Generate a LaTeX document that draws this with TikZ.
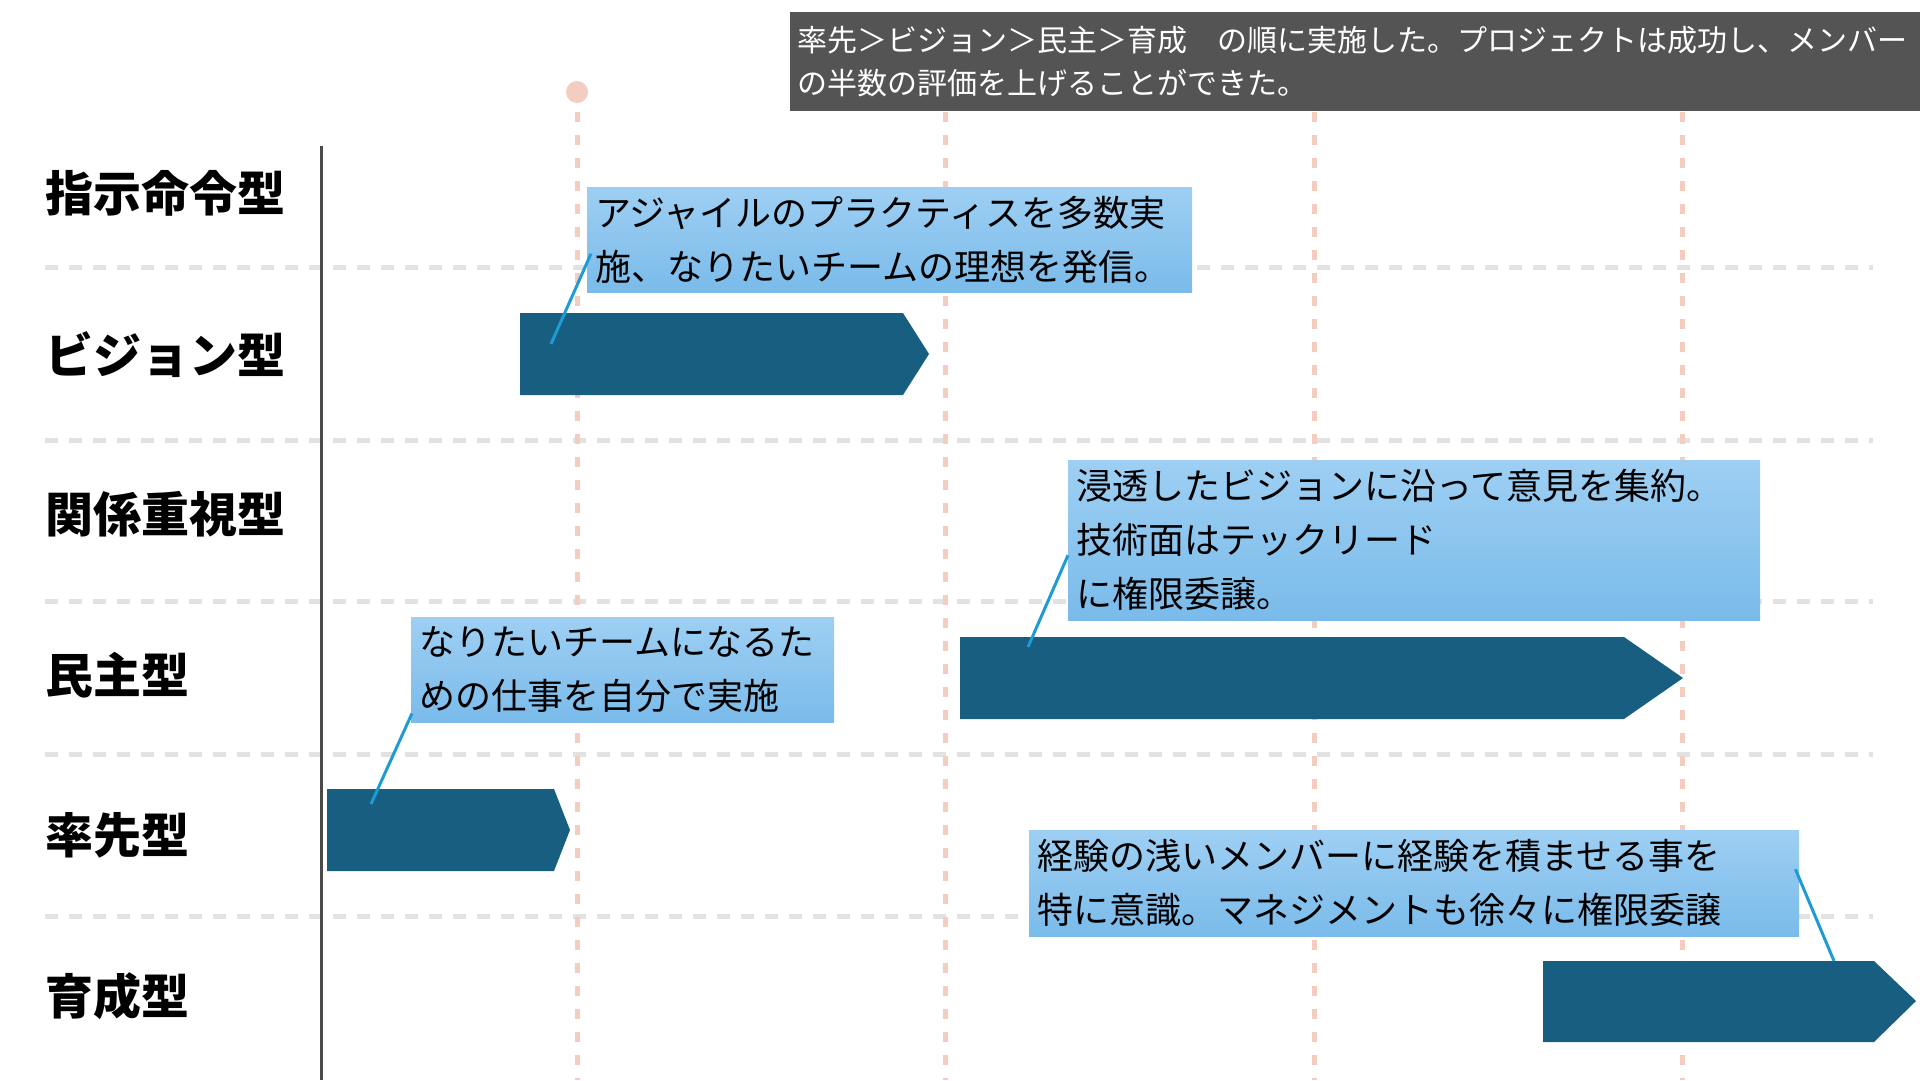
\documentclass[tikz,border=0pt]{standalone}
\usepackage{fontspec}
\setmainfont{Noto Sans CJK JP}

\definecolor{barblue}{RGB}{23,94,128}
\definecolor{linkblue}{RGB}{30,155,212}
\definecolor{gridgray}{RGB}{226,226,226}
\definecolor{guidepink}{RGB}{243,204,194}
\definecolor{notetop}{RGB}{158,207,243}
\definecolor{notebottom}{RGB}{122,187,234}
\definecolor{headgray}{RGB}{84,84,84}
\definecolor{axisgray}{RGB}{74,74,74}

\begin{document}
\begin{tikzpicture}[x=1pt,y=-1pt,
    gridline/.style={gridgray, line width=5pt, dash pattern=on 13pt off 11pt},
    guideline/.style={guidepink, line width=5pt, dash pattern=on 10pt off 13pt},
    rowlabel/.style={anchor=west, inner sep=0pt, font=\fontsize{48}{48}\selectfont\bfseries},
    note/.style={anchor=north west, inner xsep=8pt, inner ysep=0pt,
        top color=notetop, bottom color=notebottom, align=left,
        font=\fontsize{36}{54}\selectfont},
    link/.style={draw=linkblue, line width=3pt}]
    \useasboundingbox (0,0) rectangle (1920,1080);

    % Row separators
    \foreach \y in {267,440,601,754,916} {
        \draw[gridline] (45,\y) -- (1873,\y);
    }

    % Time guides
    \foreach \x in {577,945,1314,1682} {
        \draw[guideline] (\x,112) -- (\x,1080);
    }
    \fill[guidepink] (577,92) circle (11pt);

    % Axis
    \draw[axisgray, line width=3pt] (321,146) -- (321,1080);

    % Row labels
    \node[rowlabel] (directive) at (45,193) {指示命令型};
    \node[rowlabel] (vision)    at (45,355) {ビジョン型};
    \node[rowlabel] (relation)  at (45,514) {関係重視型};
    \node[rowlabel] (democracy) at (45,675) {民主型};
    \node[rowlabel] (pacesetter) at (45,835) {率先型};
    \node[rowlabel] (coaching)  at (45,996) {育成型};

    % Bars
    \fill[barblue] (520,313) -- (903,313) -- (929,354) -- (903,395) -- (520,395) -- cycle;
    \fill[barblue] (960,637) -- (1624,637) -- (1683,678) -- (1624,719) -- (960,719) -- cycle;
    \fill[barblue] (327,789) -- (554,789) -- (570,830) -- (554,871) -- (327,871) -- cycle;
    \fill[barblue] (1543,961) -- (1874,961) -- (1916,1001) -- (1874,1042) -- (1543,1042) -- cycle;
    \coordinate (visionbar) at (551,344);
    \coordinate (democracybar) at (1028,647);
    \coordinate (pacesetterbar) at (371,804);
    \coordinate (coachingbar) at (1834,961);

    % Notes
    \node[note, text width=589pt, minimum height=105pt] (visionnote) at (587,187)
        {アジャイルのプラクティスを多数実\\施、なりたいチームの理想を発信。};
    \node[note, text width=676pt, minimum height=160pt] (democracynote) at (1068,460)
        {浸透したビジョンに沿って意見を集約。\\技術面はテックリード\\に権限委譲。};
    \node[note, text width=407pt, minimum height=105pt] (pacesetternote) at (411,617)
        {なりたいチームになるた\\めの仕事を自分で実施};
    \node[note, text width=754pt, minimum height=106pt] (coachingnote) at (1029,830)
        {経験の浅いメンバーに経験を積ませる事を\\特に意識。マネジメントも徐々に権限委譲};

    % Links
    \draw[link] ([xshift=4pt,yshift=-14pt]visionnote.west) -- (visionbar);
    \draw[link] ([yshift=-15pt]democracynote.west) -- (democracybar);
    \draw[link] ([xshift=1pt,yshift=9pt]pacesetternote.south west) -- (pacesetterbar);
    \draw[link] ([xshift=-4pt,yshift=14pt]coachingnote.east) -- (coachingbar);

    % Summary
    \node[anchor=north west, fill=headgray, text=white, inner xsep=7pt, inner ysep=0pt,
        minimum height=99pt, text width=1116pt, align=left,
        font=\fontsize{30}{43}\selectfont] (summary) at (790,12)
        {率先＞ビジョン＞民主＞育成　の順に実施した。プロジェクトは成功し、メンバー\\の半数の評価を上げることができた。};
\end{tikzpicture}
\end{document}
